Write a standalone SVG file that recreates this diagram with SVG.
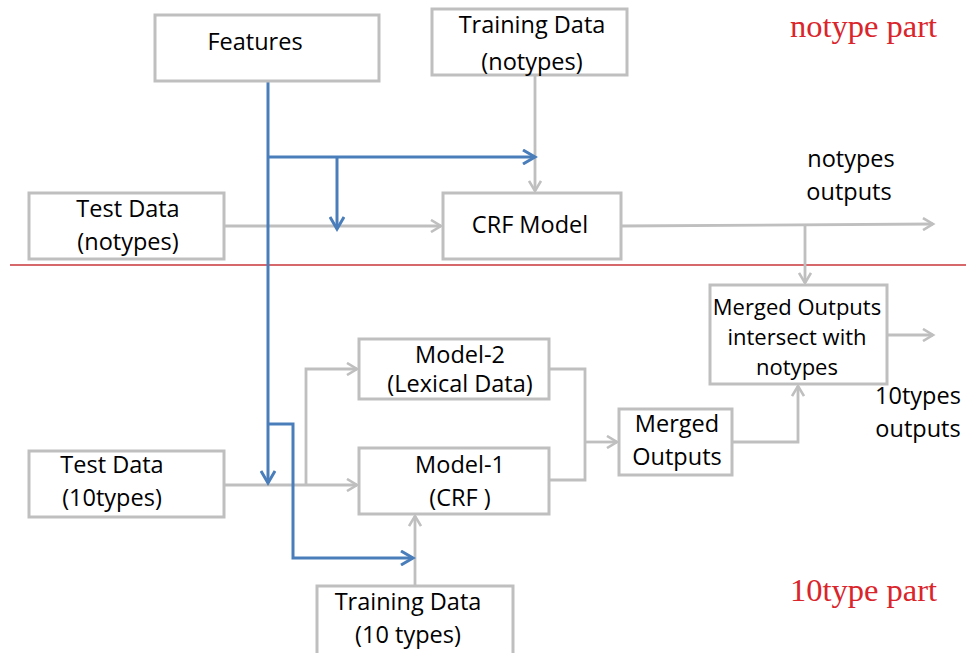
<svg xmlns="http://www.w3.org/2000/svg" width="966" height="653" viewBox="0 0 966 653">
<defs>
<marker id="ag" markerWidth="14" markerHeight="14" refX="11" refY="7" orient="auto" markerUnits="userSpaceOnUse"><path d="M1,1 L11,7 L1,13" fill="none" stroke="#bfbfbf" stroke-width="2.6"/></marker>
<marker id="ab" markerWidth="16" markerHeight="16" refX="13" refY="8" orient="auto" markerUnits="userSpaceOnUse"><path d="M1,1 L13,8 L1,15" fill="none" stroke="#4a7ebb" stroke-width="3"/></marker>
</defs>
<style>
.box{fill:#fff;stroke:#bfbfbf;stroke-width:3}
.t{font-family:"Open Sans","Liberation Sans",sans-serif;font-size:23.5px;fill:#000;text-anchor:middle}
.s{font-size:22px}
.red{font-family:"Liberation Serif",serif;font-size:32.5px;fill:#d9252b}
.g{fill:none;stroke:#bfbfbf;stroke-width:2.8}
.b{fill:none;stroke:#4a7ebb;stroke-width:3}
</style>
<rect width="966" height="653" fill="#fff"/>
<line x1="10" y1="265" x2="966" y2="265" stroke="#c8353a" stroke-width="1.3"/>
<text class="red" x="790" y="37">notype part</text>
<text class="red" x="790" y="601">10type part</text>
<g id="connectors">
<path class="g" d="M535,76 V191" marker-end="url(#ag)"/>
<path class="g" d="M224,226 H441" marker-end="url(#ag)"/>
<path class="g" d="M621,226 L933,224" marker-end="url(#ag)"/>
<path class="g" d="M805,226 V283" marker-end="url(#ag)"/>
<path class="g" d="M887,335 H933" marker-end="url(#ag)"/>
<path class="g" d="M224,485 H357" marker-end="url(#ag)"/>
<path class="g" d="M306,485 V369 H357" marker-end="url(#ag)"/>
<path class="g" d="M415,586 V516" marker-end="url(#ag)"/>
<path class="g" d="M549,369 H585 V480 H549"/>
<path class="g" d="M585,442 H617" marker-end="url(#ag)"/>
<path class="g" d="M732,442 H798 V386" marker-end="url(#ag)"/>
<path class="b" d="M268,82 V483" marker-end="url(#ab)"/>
<path class="b" d="M268,157 H535" marker-end="url(#ab)"/>
<path class="b" d="M337,157 V229" marker-end="url(#ab)"/>
<path class="b" d="M268,424 H293 V558 H413" marker-end="url(#ab)"/>
</g>
<g id="features"><rect class="box" x="155" y="15" width="224" height="66"/><text class="t" x="255" y="50">Features</text></g>
<g id="train-notypes"><rect class="box" x="432" y="9" width="195" height="66"/><text class="t" x="532" y="33">Training Data</text><text class="t" x="532" y="70">(notypes)</text></g>
<g id="test-notypes"><rect class="box" x="29" y="193" width="195" height="66"/><text class="t" x="128" y="217">Test Data</text><text class="t" x="128" y="250">(notypes)</text></g>
<g id="crf-model"><rect class="box" x="443" y="193" width="178" height="66"/><text class="t" x="530" y="233">CRF Model</text></g>
<g id="notypes-outputs"><text class="t" x="851" y="167">notypes</text><text class="t" x="849" y="200">outputs</text></g>
<g id="merged-intersect"><rect class="box" x="710" y="285" width="177" height="99"/><text class="t s" x="797" y="315">Merged Outputs</text><text class="t s" x="797" y="345">intersect with</text><text class="t s" x="797" y="375">notypes</text></g>
<g id="types10-outputs"><text class="t" x="918" y="404">10types</text><text class="t" x="918" y="437">outputs</text></g>
<g id="merged"><rect class="box" x="619" y="409" width="113" height="66"/><text class="t" x="677" y="432">Merged</text><text class="t" x="677" y="465">Outputs</text></g>
<g id="model2"><rect class="box" x="359" y="339" width="190" height="60"/><text class="t" x="460" y="363">Model-2</text><text class="t" x="460" y="392">(Lexical Data)</text></g>
<g id="model1"><rect class="box" x="359" y="448" width="190" height="66"/><text class="t" x="460" y="473">Model-1</text><text class="t" x="460" y="506">(CRF )</text></g>
<g id="test-10types"><rect class="box" x="29" y="451" width="195" height="66"/><text class="t" x="112" y="473">Test Data</text><text class="t" x="112" y="506">(10types)</text></g>
<g id="train-10types"><rect class="box" x="317" y="586" width="196" height="70"/><text class="t" x="408" y="610">Training Data</text><text class="t" x="408" y="643">(10 types)</text></g>
</svg>
